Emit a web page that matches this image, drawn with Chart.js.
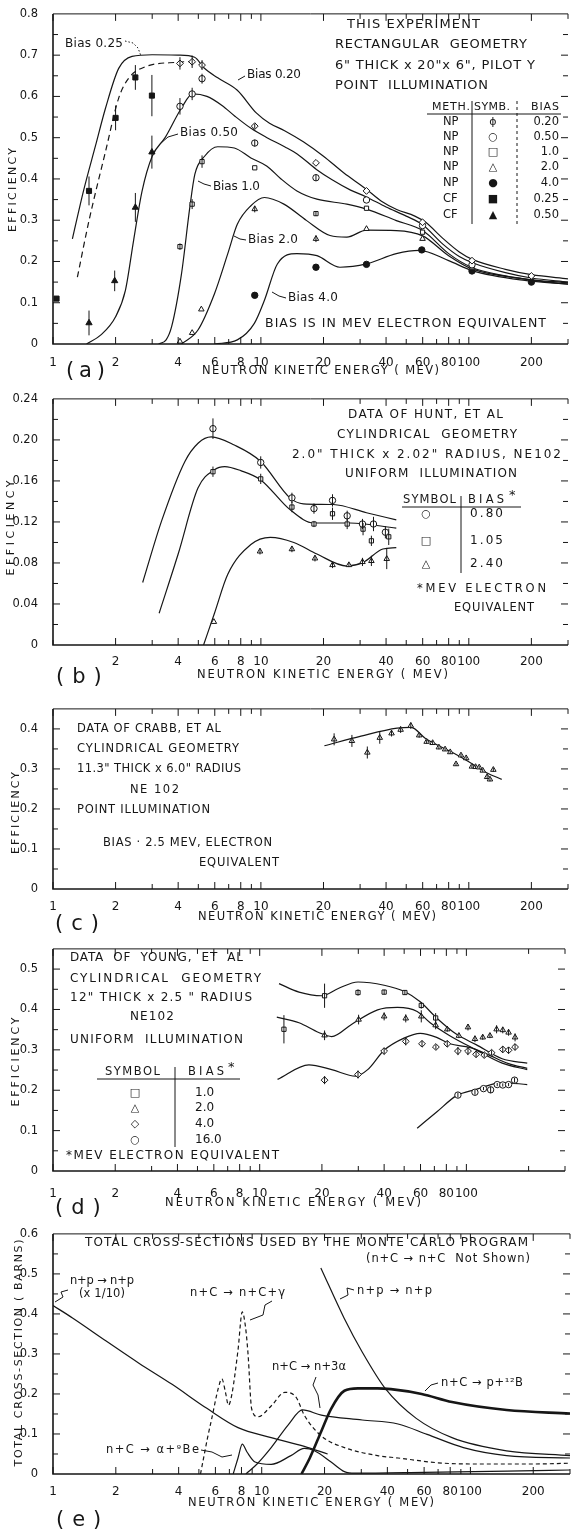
<!DOCTYPE html>
<html>
<head>
<meta charset="utf-8">
<script src="https://cdn.jsdelivr.net/npm/chart.js@4.4.1/dist/chart.umd.min.js"></script>
<style>
body{margin:0;background:#fff;width:573px;height:1535px;position:relative;overflow:hidden}
canvas{position:absolute;left:0}
</style>
</head>
<body>
<canvas id="ca"></canvas>
<canvas id="cb"></canvas>
<canvas id="cc"></canvas>
<canvas id="cd"></canvas>
<canvas id="ce"></canvas>
<script>
const ink = '#161616'
const FONT = '"DejaVu Sans", Arial, sans-serif'

// shared log x axis
const xTickVals = [1, 2, 3, 4, 5, 6, 7, 8, 9, 10, 20, 30, 40, 50, 60, 70, 80, 90, 100, 200, 300]
const xLabelsFull = [1, 2, 4, 6, 8, 10, 20, 40, 60, 80, 100, 200]
const xLabelsNoOne = [2, 4, 6, 8, 10, 20, 40, 60, 80, 100, 200]
const xLabelsNo200 = [1, 2, 4, 6, 8, 10, 20, 40, 60, 80, 100]

// ---- panel (a): this experiment ----
const aYTicks = [0, 0.1, 0.2, 0.3, 0.4, 0.5, 0.6, 0.7, 0.8]
const aYLabels = ['0', '0.1', '0.2', '0.3', '0.4', '0.5', '0.6', '0.7', '0.8']
const aCurve020 = [[1.24,0.255],[1.4,0.37],[1.6,0.48],[1.79,0.572],[2.07,0.668],[2.4,0.697],[3,0.701],[4,0.7],[4.8,0.695],[5.3,0.67],[6.2,0.645],[7.7,0.615],[9.5,0.56],[11,0.535],[13,0.517],[16,0.49],[20,0.455],[25,0.415],[32,0.376],[38,0.346],[45,0.326],[55,0.31],[62,0.295],[75,0.256],[90,0.223],[104,0.205],[150,0.181],[200,0.168],[300,0.158]]
const aCurve050 = [[1.45,0],[1.7,0.022],[2.0,0.066],[2.23,0.13],[2.44,0.25],[2.68,0.37],[3.0,0.455],[3.46,0.5],[4.15,0.572],[4.7,0.606],[5.5,0.6],[6.5,0.578],[7.5,0.552],[9,0.522],[10.7,0.5],[13,0.478],[15,0.46],[18.5,0.423],[22,0.398],[27,0.373],[32,0.357],[40,0.332],[50,0.31],[60,0.289],[75,0.242],[90,0.212],[104,0.197],[150,0.173],[200,0.16],[300,0.15]]
const aCurve100 = [[3.22,0],[3.5,0.01],[3.72,0.042],[4.15,0.17],[4.55,0.331],[4.81,0.411],[5.36,0.455],[6.2,0.478],[7.45,0.475],[8.95,0.451],[10.7,0.431],[12.5,0.4],[14.9,0.371],[18.6,0.351],[25.9,0.339],[32.2,0.327],[44.8,0.299],[60,0.275],[80,0.219],[103,0.186],[150,0.165],[200,0.155],[300,0.145]]
const aCurve200 = [[4.15,0],[4.98,0.034],[5.98,0.122],[6.93,0.219],[7.7,0.29],[8.95,0.335],[10.4,0.355],[12.9,0.339],[16.6,0.299],[21.5,0.263],[25.9,0.259],[32.2,0.276],[44.8,0.275],[60,0.262],[80,0.214],[103.6,0.182],[186,0.158],[300,0.148]]
const aCurve400 = [[6,0],[7.7,0.01],[9.3,0.05],[10.4,0.106],[12,0.194],[14.9,0.219],[18.6,0.214],[24,0.186],[32.2,0.194],[44.8,0.219],[57.8,0.227],[80,0.202],[103.6,0.178],[186,0.154],[300,0.145]]
const aCurve025 = [[1.31,0.162],[1.49,0.299],[1.79,0.467],[2.07,0.596],[2.31,0.644],[2.78,0.672],[4.0,0.683],[4.7,0.685]]
// points: [energy, efficiency, error]
const aNP020 = [[4.08,0.68,0.015],[4.67,0.684,0.015],[5.21,0.676,0.012],[9.34,0.528,0.006],[18.4,0.439,0],[32.2,0.371,0],[59.9,0.295,0],[103.6,0.202,0],[200,0.165,0]]
const aNP050 = [[4.08,0.576,0.02],[4.67,0.606,0.015],[5.21,0.643,0.012],[9.34,0.487,0.008],[18.4,0.403,0.008],[32.2,0.349,0],[59.9,0.287,0],[103.6,0.192,0]]
const aNP100 = [[4.08,0.236,0.008],[4.67,0.339,0.012],[5.21,0.442,0.015],[9.34,0.427,0],[18.4,0.316,0.006],[32.2,0.329,0],[59.9,0.271,0],[103.6,0.187,0]]
const aNP200 = [[4.08,0.006,0],[4.67,0.027,0],[5.17,0.084,0],[9.34,0.327,0.008],[18.4,0.255,0.008],[32.2,0.279,0],[59.9,0.255,0],[103.6,0.184,0]]
const aNP400 = [[9.34,0.118,0],[18.4,0.186,0],[32.2,0.193,0],[59.4,0.228,0],[103.6,0.177,0],[200,0.15,0]]
const aCF025 = [[1.04,0.11,0],[1.49,0.371,0.035],[2.0,0.548,0.03],[2.49,0.646,0.03],[2.99,0.602,0.05]]
const aCF050 = [[1.49,0.051,0.03],[1.98,0.153,0.025],[2.49,0.331,0.035],[2.99,0.465,0.04]]
const aTableMeth = ['NP', 'NP', 'NP', 'NP', 'NP', 'CF', 'CF']
const aTableSymb = ['ɸ', '○', '□', '△', '●', '■', '▲']
const aTableBias = ['0.20', '0.50', '1.0', '2.0', '4.0', '0.25', '0.50']

// ---- panel (b): Hunt et al ----
const bYTicks = [0, 0.04, 0.08, 0.12, 0.16, 0.2, 0.24]
const bYLabels = ['0', '0.04', '0.08', '0.12', '0.16', '0.20', '0.24']
const bCurve080 = [[2.7,0.061],[3.33,0.121],[4.31,0.179],[5.0,0.197],[5.77,0.203],[7.45,0.195],[9.98,0.179],[13.8,0.1435],[16,0.1377],[22.3,0.137],[32.2,0.129],[44.8,0.122]]
const bCurve105 = [[3.24,0.031],[4.0,0.0887],[4.98,0.153],[5.98,0.171],[6.7,0.174],[8,0.17],[9.98,0.161],[13.8,0.132],[17.9,0.119],[26.8,0.119],[44.8,0.114]]
const bCurve240 = [[5.3,0],[5.98,0.031],[6.93,0.069],[8.95,0.098],[11.1,0.105],[14.4,0.1],[18.6,0.0887],[25.9,0.077],[31,0.0806],[38.6,0.0936],[44.8,0.095]]
const bPts080 = [[5.88,0.211,0.01],[9.98,0.178,0.006],[14.1,0.1435,0.005],[18,0.133,0.005],[22.1,0.141,0.006],[26,0.126,0.005],[30.8,0.118,0.005],[34.8,0.118,0.007],[39.7,0.11,0.006]]
const bPts105 = [[5.88,0.169,0.005],[9.98,0.162,0.005],[14.1,0.1345,0.005],[18,0.118,0.003],[22.1,0.128,0.006],[26,0.118,0.005],[31,0.113,0.006],[34,0.1016,0.005],[41.2,0.1055,0.008]]
const bPts240 = [[5.94,0.0226,0],[9.9,0.0913,0.003],[14.1,0.0935,0.003],[18.2,0.0845,0.003],[22.1,0.078,0.003],[26.5,0.078,0.002],[30.8,0.081,0.004],[34,0.082,0.005],[40.3,0.084,0.01]]

// ---- panel (c): Crabb et al ----
const cYTicks = [0, 0.1, 0.2, 0.3, 0.4]
const cYLabels = ['0', '0.1', '0.2', '0.3', '0.4']
const cCurve = [[20.2,0.358],[30.3,0.382],[45.2,0.402],[52.8,0.404],[61.9,0.376],[81.4,0.344],[100,0.318],[122.5,0.29],[144,0.274]]
const cPts = [[22.5,0.374,0.015],[27.4,0.37,0.015],[32.5,0.341,0.015],[37.3,0.378,0.015],[42.5,0.389,0.008],[47,0.398,0.008],[52.6,0.408,0.008],[57.7,0.384,0.006],[62.7,0.368,0.005],[67,0.365,0.005],[71.8,0.354,0.005],[76.9,0.349,0.004],[81.4,0.342,0.004],[86.8,0.312,0.004],[91.7,0.334,0.004],[97.1,0.327,0.004],[103.5,0.306,0.004],[107.8,0.305,0.004],[112.2,0.304,0.004],[116.7,0.296,0.004],[122.5,0.28,0.005],[126.4,0.274,0.005],[131.2,0.298,0.005]]

// ---- panel (d): Young et al ----
const dYTicks = [0, 0.1, 0.2, 0.3, 0.4, 0.5]
const dYLabels = ['0', '0.1', '0.2', '0.3', '0.4', '0.5']
const dCurve100 = [[12.4,0.464],[15.5,0.443],[20,0.434],[24,0.452],[29.9,0.468],[40,0.46],[49.9,0.445],[59.8,0.419],[71.8,0.379],[89.3,0.339],[111.4,0.313],[149,0.278],[197,0.267]]
const dCurve200 = [[12.1,0.381],[15.5,0.367],[19.3,0.343],[22.3,0.333],[27.8,0.363],[37.2,0.399],[46.4,0.405],[57.8,0.395],[66.8,0.367],[83.1,0.335],[111.4,0.3],[149,0.267],[197,0.251]]
const dCurve400 = [[12.2,0.227],[17.3,0.263],[22.3,0.251],[29.1,0.235],[33.3,0.251],[40,0.299],[49.9,0.329],[59.8,0.341],[71.8,0.331],[83.1,0.315],[103.7,0.306],[125,0.29],[160,0.266],[197,0.254]]
const dCurve1600 = [[57.8,0.106],[71.8,0.146],[89.3,0.186],[111.4,0.202],[149,0.219],[197,0.214]]
const dPts100 = [[13.1,0.351,0.035],[20.6,0.434,0.03],[29.9,0.442,0.008],[40,0.443,0.006],[50.4,0.442,0.006],[60.5,0.41,0.008],[71,0.379,0.012]]
const dPts200 = [[20.6,0.336,0.012],[30.1,0.375,0.012],[40,0.383,0.01],[50.9,0.378,0.01],[60.5,0.383,0.015],[71,0.361,0.01],[80.8,0.351,0.006],[92,0.335,0.006],[101.8,0.356,0.008],[110,0.327,0.008],[120,0.331,0.006],[130,0.335,0.006],[140,0.351,0.01],[150,0.349,0.008],[160,0.343,0.008],[172,0.331,0.01]]
const dPts400 = [[20.6,0.225,0.01],[29.9,0.239,0.01],[40,0.297,0.008],[50.9,0.321,0.01],[61,0.315,0.008],[71.2,0.307,0.006],[80.8,0.315,0.008],[91,0.297,0.01],[101.8,0.297,0.01],[111.4,0.289,0.008],[122,0.287,0.006],[132.4,0.293,0.006],[150,0.301,0.008],[160,0.299,0.008],[172,0.307,0.008]]
const dPts1600 = [[91,0.188,0.006],[110,0.195,0.006],[121,0.204,0.004],[131,0.201,0.008],[141,0.214,0.004],[150,0.213,0.004],[160,0.214,0.004],[171,0.225,0.006]]
const dTableSymb = ['□', '△', '◇', '○']
const dTableBias = ['1.0', '2.0', '4.0', '16.0']

// ---- panel (e): cross sections ----
const eYTicks = [0, 0.1, 0.2, 0.3, 0.4, 0.5, 0.6]
const eYLabels = ['0', '0.1', '0.2', '0.3', '0.4', '0.5', '0.6']
const eNpTenth = [[1,0.421],[1.24,0.39],[1.79,0.333],[2.58,0.277],[3.72,0.224],[5.46,0.164],[7.7,0.116],[11.1,0.091],[16,0.069],[20.7,0.05]]
const eNCGamma = [[5.09,0],[5.5,0.09],[5.77,0.14],[6.2,0.215],[6.44,0.238],[6.7,0.205],[6.93,0.172],[7.2,0.2],[7.7,0.31],[8.07,0.405],[8.35,0.37],[8.6,0.3],[8.95,0.163],[9.6,0.143],[11.1,0.17],[12.9,0.204],[14.6,0.192],[16,0.147],[19.3,0.095],[24.9,0.066],[35.9,0.046],[45,0.04],[70,0.028],[100,0.025],[200,0.025],[300,0.027]]
const eAlphaBe = [[7.3,0],[7.7,0.04],[8.07,0.0745],[8.5,0.055],[9.29,0.03],[11.1,0.024],[13.8,0.046],[16,0.064],[17.9,0.058],[21.5,0.03],[24.9,0.006],[28,0.002],[60,0.004],[150,0.007],[300,0.01]]
const eN3Alpha = [[8.4,0],[9.5,0.025],[11.1,0.066],[13.4,0.123],[15.7,0.16],[19.3,0.147],[30.3,0.135],[45,0.125],[62,0.099],[92.6,0.066],[149,0.046],[300,0.04]]
const eP12B = [[15.5,0],[17,0.04],[19.3,0.107],[21.5,0.163],[24.9,0.208],[28.9,0.214],[35.9,0.214],[41.6,0.212],[58.4,0.2],[81.6,0.18],[149,0.16],[300,0.151]]
const eNp = [[19.2,0.515],[24.8,0.39],[30.3,0.305],[39.3,0.212],[55,0.139],[81.6,0.091],[149,0.058],[300,0.046]]

// ---------- helpers ----------
function xy(arr) { return arr.map(p => ({ x: p[0], y: p[1] })) }

function curve(arr, extra) {
  return Object.assign({
    data: xy(arr), showLine: true, pointRadius: 0, borderColor: ink,
    borderWidth: 1.2, cubicInterpolationMode: 'monotone', fill: false, order: 2
  }, extra || {})
}

function points(arr, style, filled, r) {
  return {
    data: xy(arr), errs: arr.map(p => p[2] || 0), showLine: false,
    pointStyle: style, pointRadius: r || 3.2, borderColor: ink, borderWidth: 1,
    pointBackgroundColor: filled ? ink : '#fff', order: 1
  }
}

function txt(ctx, s, x, y, w, size, align) {
  ctx.font = size + 'px ' + FONT
  ctx.letterSpacing = '0px'
  const n = [...s].length
  const m = ctx.measureText(s).width
  let sp = 0
  if (w) {
    sp = (w - m) / Math.max(n - 1, 1)
    if (sp < -0.4) { ctx.font = (size * w / m) + 'px ' + FONT; sp = 0 }
    sp = Math.min(sp, 8)
  }
  ctx.letterSpacing = sp + 'px'
  ctx.textBaseline = 'middle'
  ctx.textAlign = align || 'left'
  ctx.fillText(s, x, y)
  ctx.letterSpacing = '0px'
}

function vtxt(ctx, s, cx, cy, len, size) {
  ctx.save()
  ctx.translate(cx, cy)
  ctx.rotate(-Math.PI / 2)
  txt(ctx, s, -len / 2, 0, len, size)
  ctx.restore()
}

function path(ctx, pts, dash, lw) {
  ctx.save()
  ctx.lineWidth = lw || 1
  ctx.setLineDash(dash || [])
  ctx.beginPath()
  ctx.moveTo(pts[0][0], pts[0][1])
  for (let i = 1; i < pts.length; i++) ctx.lineTo(pts[i][0], pts[i][1])
  ctx.stroke()
  ctx.restore()
}

function decor(top, yMinor, labelSet, annotate) {
  return {
    id: 'decor',
    afterDatasetsDraw(chart) {
      const { ctx, scales: { x, y } } = chart
      ctx.save()
      ctx.strokeStyle = ink
      ctx.lineWidth = 1
      chart.data.datasets.forEach(ds => {
        if (!ds.errs) return
        ds.data.forEach((p, i) => {
          const e = ds.errs[i]
          if (!e) return
          const px = x.getPixelForValue(p.x)
          ctx.beginPath()
          ctx.moveTo(px, y.getPixelForValue(p.y + e))
          ctx.lineTo(px, y.getPixelForValue(p.y - e))
          ctx.stroke()
        })
      })
      ctx.restore()
    },
    afterDraw(chart) {
      const { ctx, chartArea: a, scales: { x, y } } = chart
      ctx.save()
      ctx.strokeStyle = ink
      ctx.fillStyle = ink
      // frame
      path(ctx, [[a.left, a.top], [a.left, a.bottom], [a.right, a.bottom]], null, 1.6)
      path(ctx, [[a.left, a.top], [a.right, a.top]], null, 1)
      // inward x ticks, bottom and top
      ctx.lineWidth = 1
      xTickVals.forEach(v => {
        const px = x.getPixelForValue(v)
        const len = labelSet.includes(v) ? 7 : 5
        ctx.beginPath()
        ctx.moveTo(px, a.bottom); ctx.lineTo(px, a.bottom - len)
        ctx.moveTo(px, a.top); ctx.lineTo(px, a.top + len)
        ctx.stroke()
      })
      // inward y ticks, left and right
      const nY = Math.round(y.max / yMinor)
      for (let k = 1; k < nY; k++) {
        const py = y.getPixelForValue(k * yMinor)
        const len = k % 2 === 0 ? 7 : 5
        ctx.beginPath()
        ctx.moveTo(a.left, py); ctx.lineTo(a.left + len, py)
        ctx.moveTo(a.right, py); ctx.lineTo(a.right - len, py)
        ctx.stroke()
      }
      ctx.translate(0, -top)
      annotate(ctx)
      ctx.restore()
    }
  }
}

function build(id, top, height, chartTop, chartBottom, yMax, yTicks, yLabels, yMinor, xLabels, xPad, datasets, annotate) {
  const cv = document.getElementById(id)
  cv.width = 573
  cv.height = height
  cv.style.top = top + 'px'
  return new Chart(cv, {
    type: 'scatter',
    data: { datasets: datasets },
    options: {
      responsive: false,
      animation: false,
      events: [],
      layout: { padding: { top: chartTop - top, left: 0, right: 0, bottom: 0 } },
      plugins: { legend: { display: false }, tooltip: { enabled: false } },
      scales: {
        x: {
          type: 'logarithmic', min: 1, max: 300,
          afterFit(s) { s.height = top + height - chartBottom },
          afterBuildTicks(s) { s.ticks = xTickVals.map(v => ({ value: v })) },
          grid: { display: false }, border: { display: false },
          ticks: {
            autoSkip: false, maxRotation: 0, minRotation: 0, padding: xPad, color: ink,
            font: { family: FONT, size: 12 },
            callback: v => xLabels.includes(v) ? String(v) : ''
          }
        },
        y: {
          min: 0, max: yMax,
          afterFit(s) { s.width = 53 },
          afterBuildTicks(s) { s.ticks = yTicks.map(v => ({ value: v })) },
          grid: { display: false }, border: { display: false },
          ticks: {
            padding: 7, color: ink, font: { family: FONT, size: 11.5 },
            callback: (v, i) => yLabels[i]
          }
        }
      }
    },
    plugins: [decor(top, yMinor, xLabels, annotate)]
  })
}

function axisText(ctx, xt, letter, yt) {
  txt(ctx, 'NEUTRON KINETIC ENERGY ( MEV)', xt[0], xt[1], xt[2], 11.5)
  txt(ctx, letter[0], letter[1], letter[2], letter[3], 21)
  vtxt(ctx, yt[0], yt[1], yt[2], yt[3], 11)
}

// ---------- panel (a) ----------
build('ca', 0, 395, 12, 344, 0.8, aYTicks, aYLabels, 0.05, xLabelsFull, 4, [
  points(aNP020, 'rectRot', false, 3.4),
  points(aNP050, 'circle', false),
  points(aNP100, 'rect', false, 3),
  points(aNP200, 'triangle', false),
  points(aNP400, 'circle', true),
  points(aCF025, 'rect', true, 3.6),
  points(aCF050, 'triangle', true, 3.6),
  curve(aCurve020), curve(aCurve050), curve(aCurve100), curve(aCurve200), curve(aCurve400),
  curve(aCurve025, { borderDash: [6, 4] })
], ctx => {
  axisText(ctx, [202, 371, 237], ['(a)', 66, 372, 39], ['EFFICIENCY', 13, 190, 84])
  txt(ctx, 'Bias 0.25', 65, 44, 58, 12)
  path(ctx, [[125, 41], [133, 43], [138, 48], [141, 56]], [1.5, 2])
  txt(ctx, 'Bias 0.20', 247, 75, 54, 12)
  path(ctx, [[245, 76], [238, 80]])
  txt(ctx, 'Bias 0.50', 180, 133, 58, 12)
  path(ctx, [[178, 134], [168, 137], [161, 143]])
  txt(ctx, 'Bias 1.0', 213, 187, 47, 12)
  path(ctx, [[211, 186], [204, 184], [198, 181]])
  txt(ctx, 'Bias 2.0', 248, 240, 50, 12)
  path(ctx, [[246, 240], [240, 239], [234, 236]])
  txt(ctx, 'Bias 4.0', 288, 298, 50, 12)
  path(ctx, [[286, 298], [279, 296], [272, 292]])
  txt(ctx, 'THIS EXPERIMENT', 347, 25, 133, 13)
  txt(ctx, 'RECTANGULAR  GEOMETRY', 335, 45, 192, 13)
  txt(ctx, '6" THICK x 20"x 6", PILOT Y', 335, 66, 200, 13)
  txt(ctx, 'POINT  ILLUMINATION', 335, 86, 153, 13)
  txt(ctx, 'METH.', 432, 107, 38, 11)
  txt(ctx, 'SYMB.', 474, 107, 36, 11)
  txt(ctx, 'BIAS', 531, 107, 28, 11)
  path(ctx, [[427, 114], [561, 114]])
  path(ctx, [[472, 101], [472, 224]])
  path(ctx, [[517, 101], [517, 224]], [3, 3])
  const rows = [122, 137, 152, 167, 183, 199, 215]
  rows.forEach((ry, i) => {
    txt(ctx, aTableMeth[i], 443, ry, 0, 11.5)
    txt(ctx, aTableSymb[i], 493, ry, 0, 11, 'center')
    txt(ctx, aTableBias[i], 559, ry, 0, 11.5, 'right')
  })
  txt(ctx, 'BIAS IS IN MEV ELECTRON EQUIVALENT', 265, 324, 281, 12.5)
})

// ---------- panel (b) ----------
build('cb', 385, 310, 397, 645, 0.24, bYTicks, bYLabels, 0.02, xLabelsNoOne, 2, [
  points(bPts080, 'circle', false),
  points(bPts105, 'rect', false, 3),
  points(bPts240, 'triangle', false),
  curve(bCurve080), curve(bCurve105), curve(bCurve240)
], ctx => {
  axisText(ctx, [197, 675, 251], ['(b)', 56, 678, 50], ['EFFICIENCY', 11, 528, 95])
  txt(ctx, 'DATA OF HUNT, ET AL', 348, 415, 155, 12)
  txt(ctx, 'CYLINDRICAL  GEOMETRY', 337, 435, 180, 12)
  txt(ctx, '2.0" THICK x 2.02" RADIUS, NE102', 292, 455, 269, 12)
  txt(ctx, 'UNIFORM  ILLUMINATION', 345, 474, 172, 12)
  txt(ctx, 'SYMBOL', 403, 500, 53, 11.5)
  txt(ctx, 'BIAS', 468, 500, 36, 11.5)
  txt(ctx, '*', 509, 496, 0, 13)
  path(ctx, [[402, 507], [521, 507]])
  path(ctx, [[461, 496], [461, 573]])
  const rows = [514, 541, 564]
  const syms = ['○', '□', '△']
  const vals = ['0.80', '1.05', '2.40']
  rows.forEach((ry, i) => {
    txt(ctx, syms[i], 426, ry, 0, 11, 'center')
    txt(ctx, vals[i], 470, ry, 33, 12)
  })
  txt(ctx, '*MEV ELECTRON', 417, 589, 129, 11.5)
  txt(ctx, 'EQUIVALENT', 454, 608, 80, 11.5)
})

// ---------- panel (c) ----------
build('cc', 695, 245, 702, 889, 0.45, cYTicks, cYLabels, 0.05, xLabelsFull, 3, [
  points(cPts, 'triangle', false),
  curve(cCurve)
], ctx => {
  axisText(ctx, [198, 917, 238], ['(c)', 55, 925, 53], ['EFFICIENCY', 16, 813, 82])
  txt(ctx, 'DATA OF CRABB, ET AL', 77, 729, 144, 11.5)
  txt(ctx, 'CYLINDRICAL GEOMETRY', 77, 749, 162, 11.5)
  txt(ctx, '11.3" THICK x 6.0" RADIUS', 77, 769, 164, 11.5)
  txt(ctx, 'NE 102', 130, 790, 49, 11.5)
  txt(ctx, 'POINT ILLUMINATION', 77, 810, 133, 11.5)
  txt(ctx, 'BIAS · 2.5 MEV, ELECTRON', 103, 843, 169, 11.5)
  txt(ctx, 'EQUIVALENT', 199, 863, 80, 11.5)
})

// ---------- panel (d) ----------
build('cd', 935, 290, 942, 1171, 0.55, dYTicks, dYLabels, 0.05, xLabelsNo200, 8, [
  points(dPts100, 'rect', false, 3),
  points(dPts200, 'triangle', false),
  points(dPts400, 'rectRot', false, 3.4),
  points(dPts1600, 'circle', false),
  curve(dCurve100), curve(dCurve200), curve(dCurve400), curve(dCurve1600)
], ctx => {
  axisText(ctx, [165, 1203, 256], ['(d)', 55, 1209, 55], ['EFFICIENCY', 16, 1062, 89])
  txt(ctx, 'DATA  OF  YOUNG,  ET  AL', 70, 958, 173, 12)
  txt(ctx, 'CYLINDRICAL  GEOMETRY', 70, 979, 191, 12)
  txt(ctx, '12" THICK x 2.5 " RADIUS', 70, 998, 182, 12)
  txt(ctx, 'NE102', 130, 1017, 44, 12)
  txt(ctx, 'UNIFORM  ILLUMINATION', 70, 1040, 173, 12)
  txt(ctx, 'SYMBOL', 105, 1072, 55, 11.5)
  txt(ctx, 'BIAS', 188, 1072, 36, 11.5)
  txt(ctx, '*', 228, 1068, 0, 13)
  path(ctx, [[97, 1079], [240, 1079]])
  path(ctx, [[175, 1067], [175, 1147]])
  const rows = [1093, 1108, 1124, 1140]
  rows.forEach((ry, i) => {
    txt(ctx, dTableSymb[i], 135, ry, 0, 11, 'center')
    txt(ctx, dTableBias[i], 195, ry, 0, 12)
  })
  txt(ctx, '*MEV ELECTRON EQUIVALENT', 66, 1156, 213, 12)
})

// ---------- panel (e) ----------
build('ce', 1220, 315, 1227, 1474, 0.6, eYTicks, eYLabels, 0.05, xLabelsFull, 3, [
  curve(eNpTenth), curve(eNCGamma, { borderDash: [4, 3] }), curve(eAlphaBe),
  curve(eN3Alpha), curve(eP12B, { borderWidth: 2.6 }), curve(eNp)
], ctx => {
  axisText(ctx, [188, 1503, 246], ['(e)', 56, 1521, 52], ['TOTAL CROSS-SECTION ( BARNS)', 19, 1353, 227])
  txt(ctx, 'TOTAL CROSS-SECTIONS USED BY THE MONTE CARLO PROGRAM', 85, 1243, 443, 12)
  txt(ctx, '(n+C → n+C  Not Shown)', 366, 1259, 164, 11.5)
  txt(ctx, 'n+p → n+p', 70, 1281, 64, 11.5)
  txt(ctx, '(x 1/10)', 79, 1294, 46, 11.5)
  path(ctx, [[68, 1290], [61, 1292], [63, 1297], [55, 1302]])
  txt(ctx, 'n+C → n+C+γ', 190, 1293, 95, 11.5)
  path(ctx, [[272, 1301], [265, 1305], [263, 1315], [250, 1320]])
  txt(ctx, 'n+p → n+p', 357, 1291, 75, 11.5)
  path(ctx, [[354, 1290], [347, 1288], [348, 1295], [340, 1299]])
  txt(ctx, 'n+C → n+3α', 272, 1367, 74, 11.5)
  path(ctx, [[316, 1377], [313, 1385], [318, 1395], [320, 1408]])
  txt(ctx, 'n+C → p+¹²B', 441, 1383, 82, 11.5)
  path(ctx, [[438, 1383], [431, 1385], [425, 1391]])
  txt(ctx, 'n+C → α+⁹Be', 106, 1450, 93, 11.5)
  path(ctx, [[201, 1450], [212, 1452], [222, 1457], [232, 1455]])
})
</script>
</body>
</html>
